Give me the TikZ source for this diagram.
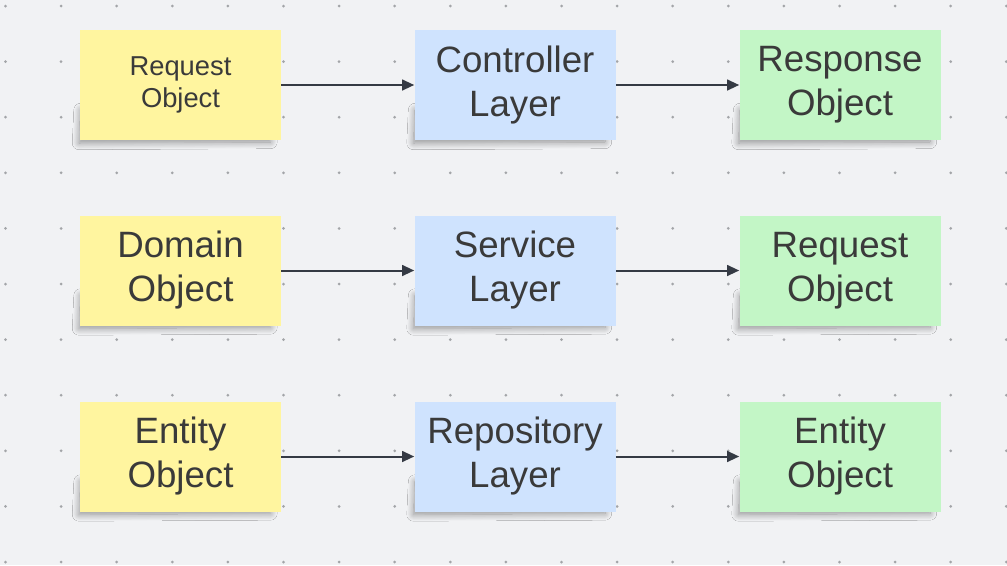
\documentclass[tikz,border=0pt]{standalone}
\usepackage{fontspec}
\setmainfont{Liberation Sans}
\usetikzlibrary{shadows.blur,arrows.meta}
\definecolor{bg}{HTML}{F1F2F4}
\definecolor{dotc}{HTML}{A3A5A8}
\definecolor{stickyY}{HTML}{FFF59F}
\definecolor{stickyB}{HTML}{CFE3FE}
\definecolor{stickyG}{HTML}{C3F6C6}
\definecolor{txt}{HTML}{3A3A3A}
\definecolor{arr}{HTML}{353A44}
\tikzset{
  note/.style={minimum width=150.75pt, minimum height=82.5pt, inner sep=0pt, align=center,
    text=txt, font=\fontsize{27.5}{33}\selectfont},
  small/.style={font=\fontsize{20.5}{24.5}\selectfont},
  yel/.style={note, fill=stickyY},
  blu/.style={note, fill=stickyB},
  grn/.style={note, fill=stickyG},
  shadowpath/.style={blur shadow={shadow xshift=0pt, shadow yshift=0pt,
      shadow blur steps=12, shadow blur radius=5pt, shadow opacity=40}},
  link/.style={draw=arr, line width=1.5pt, -{Triangle[length=9pt,width=8pt]}}
}
\newcommand\noteshadow[2]{%
  \path[shadowpath] ({#1-100},{#2+25}) -- ({#1-101.5},{#2+58})
    -- ({#1+90},{#2+57}) -- ({#1+90},{#2+25}) -- cycle;}
\begin{document}
\begin{tikzpicture}[x=0.75pt,y=-0.75pt]
\fill[bg] (0,0) rectangle (1007,565);
\useasboundingbox (0,0) rectangle (1007,565);
\foreach \i in {0,...,18}{
  \foreach \j in {0,...,10}{
    \fill[dotc] ({5.5+55.6*\i},{6+55.6*\j}) circle (1.5);
  }
}
\noteshadow{180.5}{85}
\noteshadow{515}{85}
\noteshadow{840}{85}
\noteshadow{180.5}{270.5}
\noteshadow{515}{270.5}
\noteshadow{840}{270.5}
\noteshadow{180.5}{456.5}
\noteshadow{515}{456.5}
\noteshadow{840}{456.5}
\node[yel,small] (req) at (180.5,85) {Request\\Object};
\node[blu] (ctrl) at (515,85) {Controller\\Layer};
\node[grn] (resp) at (840,85) {Response\\Object};
\node[yel] (dom) at (180.5,270.5) {Domain\\Object};
\node[blu] (svc) at (515,270.5) {Service\\Layer};
\node[grn] (req2) at (840,270.5) {Request\\Object};
\node[yel] (ent) at (180.5,456.5) {Entity\\Object};
\node[blu] (repo) at (515,456.5) {Repository\\Layer};
\node[grn] (ent2) at (840,456.5) {Entity\\Object};
\draw[link] (req) -- (ctrl);
\draw[link] (ctrl) -- (resp);
\draw[link] (dom) -- (svc);
\draw[link] (svc) -- (req2);
\draw[link] (ent) -- (repo);
\draw[link] (repo) -- (ent2);
\end{tikzpicture}
\end{document}
